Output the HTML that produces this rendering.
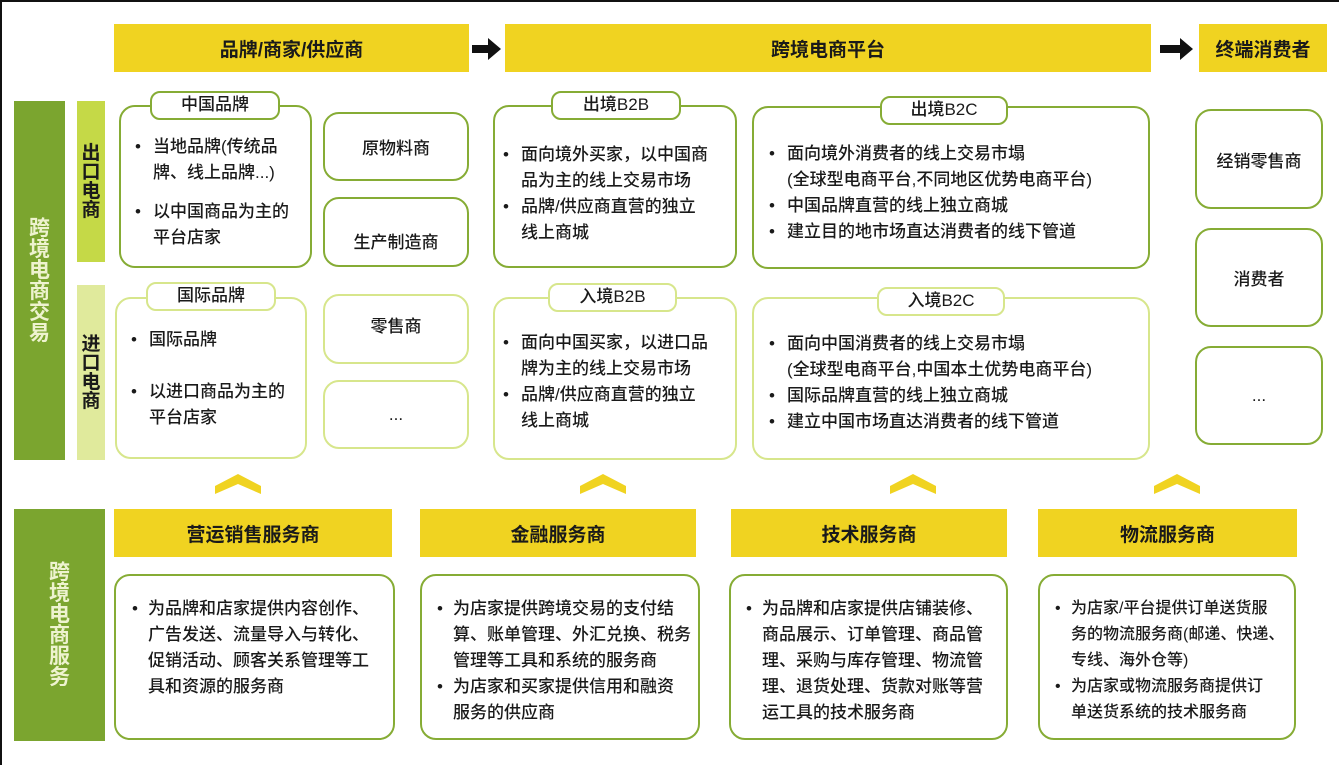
<!DOCTYPE html>
<html><head><meta charset="utf-8"><style>
*{margin:0;padding:0;box-sizing:border-box}
body{width:1339px;height:765px;position:relative;background:#fff;overflow:hidden;font-family:"Liberation Sans","Noto Sans CJK SC",sans-serif;color:#1a1a1a;font-size:17px;font-weight:500}
.a{position:absolute}
.y{position:absolute;background:#F0D321;display:flex;align-items:center;justify-content:center;font-size:19px;font-weight:600}
.b{position:absolute;border:2.5px solid #86AC35;border-radius:16px;background:#fff}
.bl{border-color:#D7E68C}
.tab{position:absolute;border:2.5px solid #86AC35;border-radius:10px;background:#fff;text-align:center;font-size:17px;line-height:24px}
.tl{border-color:#D7E68C}
.c{display:flex;align-items:center;justify-content:center}
.t{position:absolute;line-height:26px;white-space:nowrap}
.li{position:relative;padding-left:18px}
.li:before{content:"•";position:absolute;left:0}
.v{position:absolute;display:flex;flex-direction:column;align-items:center;justify-content:center;font-size:19px;line-height:21px;font-weight:600}
.chev{position:absolute;width:46px;height:20px}
</style></head><body>
<div class="a" style="left:0;top:0;width:1339px;height:2px;background:#111"></div>
<div class="a" style="left:0;top:0;width:2px;height:765px;background:#111"></div>

<div class="y" style="left:114px;top:24px;width:355px;height:48px">品牌/商家/供应商</div>
<div class="y" style="left:505px;top:24px;width:646px;height:48px">跨境电商平台</div>
<div class="y" style="left:1199px;top:24px;width:128px;height:48px">终端消费者</div>
<svg class="a" style="left:472px;top:38px" width="30" height="22"><path d="M0 7h16V0l13 11-13 11v-7H0z" fill="#111"/></svg>
<svg class="a" style="left:1160px;top:38px" width="34" height="22"><path d="M0 7h20V0l13 11-13 11v-7H0z" fill="#111"/></svg>

<div class="v" style="left:14px;top:101px;width:51px;height:359px;background:#7BA52F;color:#EEF3CF;font-size:21px;line-height:21px">跨<br>境<br>电<br>商<br>交<br>易</div>
<div class="v" style="left:77px;top:101px;width:28px;height:161px;background:#C5D947;line-height:19px">出<br>口<br>电<br>商</div>
<div class="v" style="left:77px;top:285px;width:28px;height:175px;background:#E0EA9C;line-height:19px">进<br>口<br>电<br>商</div>

<div class="b" style="left:119px;top:105px;width:193px;height:163px"></div>
<div class="tab" style="left:150px;top:91px;width:130px;height:29px">中国品牌</div>
<div class="t" style="left:135px;top:134px"><div class="li">当地品牌(传统品<br>牌、线上品牌...)</div><div class="li" style="margin-top:13px">以中国商品为主的<br>平台店家</div></div>

<div class="b c" style="left:323px;top:112px;width:146px;height:69px">原物料商</div>
<div class="b c" style="left:323px;top:197px;width:146px;height:70px;padding-top:16px">生产制造商</div>

<div class="b bl" style="left:115px;top:297px;width:192px;height:162px"></div>
<div class="tab tl" style="left:146px;top:282px;width:130px;height:29px">国际品牌</div>
<div class="t" style="left:131px;top:327px"><div class="li">国际品牌</div><div class="li" style="margin-top:26px">以进口商品为主的<br>平台店家</div></div>
<div class="b bl c" style="left:323px;top:294px;width:146px;height:70px;padding-bottom:10px">零售商</div>
<div class="b bl c" style="left:323px;top:380px;width:146px;height:69px">...</div>

<div class="b" style="left:493px;top:105px;width:244px;height:163px"></div>
<div class="tab" style="left:551px;top:91px;width:130px;height:29px">出境B2B</div>
<div class="t" style="left:503px;top:142px"><div class="li">面向境外买家，以中国商<br>品为主的线上交易市场</div><div class="li">品牌/供应商直营的独立<br>线上商城</div></div>

<div class="b" style="left:752px;top:106px;width:398px;height:163px"></div>
<div class="tab" style="left:880px;top:96px;width:128px;height:29px">出境B2C</div>
<div class="t" style="left:769px;top:141px"><div class="li">面向境外消费者的线上交易市塌<br>(全球型电商平台,不同地区优势电商平台)</div><div class="li">中国品牌直营的线上独立商城</div><div class="li">建立目的地市场直达消费者的线下管道</div></div>

<div class="b bl" style="left:493px;top:297px;width:244px;height:163px"></div>
<div class="tab tl" style="left:548px;top:283px;width:129px;height:29px">入境B2B</div>
<div class="t" style="left:503px;top:330px"><div class="li">面向中国买家，以进口品<br>牌为主的线上交易市场</div><div class="li">品牌/供应商直营的独立<br>线上商城</div></div>

<div class="b bl" style="left:752px;top:297px;width:398px;height:163px"></div>
<div class="tab tl" style="left:877px;top:287px;width:128px;height:29px">入境B2C</div>
<div class="t" style="left:769px;top:331px"><div class="li">面向中国消费者的线上交易市塌<br>(全球型电商平台,中国本土优势电商平台)</div><div class="li">国际品牌直营的线上独立商城</div><div class="li">建立中国市场直达消费者的线下管道</div></div>

<div class="b c" style="left:1195px;top:109px;width:128px;height:100px">经销零售商</div>
<div class="b c" style="left:1195px;top:228px;width:128px;height:99px">消费者</div>
<div class="b c" style="left:1195px;top:346px;width:128px;height:99px">...</div>

<svg class="chev" style="left:215px;top:474px"><path d="M0 12L23 0 46 12v8L23 10 0 20z" fill="#F0D321"/></svg>
<svg class="chev" style="left:580px;top:474px"><path d="M0 12L23 0 46 12v8L23 10 0 20z" fill="#F0D321"/></svg>
<svg class="chev" style="left:890px;top:474px"><path d="M0 12L23 0 46 12v8L23 10 0 20z" fill="#F0D321"/></svg>
<svg class="chev" style="left:1154px;top:474px"><path d="M0 12L23 0 46 12v8L23 10 0 20z" fill="#F0D321"/></svg>

<div class="v" style="left:14px;top:509px;width:91px;height:232px;background:#7BA52F;color:#EEF3CF;font-size:21px">跨<br>境<br>电<br>商<br>服<br>务</div>
<div class="y" style="left:114px;top:509px;width:278px;height:48px">营运销售服务商</div>
<div class="y" style="left:420px;top:509px;width:276px;height:48px">金融服务商</div>
<div class="y" style="left:731px;top:509px;width:276px;height:48px">技术服务商</div>
<div class="y" style="left:1038px;top:509px;width:259px;height:48px">物流服务商</div>

<div class="b" style="left:114px;top:574px;width:281px;height:166px"></div>
<div class="t" style="left:132px;top:596px"><div class="li" style="padding-left:16px">为品牌和店家提供内容创作、<br>广告发送、流量导入与转化、<br>促销活动、顾客关系管理等工<br>具和资源的服务商</div></div>
<div class="b" style="left:420px;top:574px;width:280px;height:166px"></div>
<div class="t" style="left:437px;top:596px"><div class="li" style="padding-left:16px">为店家提供跨境交易的支付结<br>算、账单管理、外汇兑换、税务<br>管理等工具和系统的服务商</div><div class="li" style="padding-left:16px">为店家和买家提供信用和融资<br>服务的供应商</div></div>
<div class="b" style="left:729px;top:574px;width:279px;height:166px"></div>
<div class="t" style="left:746px;top:596px"><div class="li" style="padding-left:16px">为品牌和店家提供店铺装修、<br>商品展示、订单管理、商品管<br>理、采购与库存管理、物流管<br>理、退货处理、货款对账等营<br>运工具的技术服务商</div></div>
<div class="b" style="left:1038px;top:574px;width:258px;height:166px"></div>
<div class="t" style="left:1055px;top:596px;font-size:16px"><div class="li" style="padding-left:16px">为店家/平台提供订单送货服<br>务的物流服务商(邮递、快递、<br>专线、海外仓等)</div><div class="li" style="padding-left:16px">为店家或物流服务商提供订<br>单送货系统的技术服务商</div></div>
</body></html>
